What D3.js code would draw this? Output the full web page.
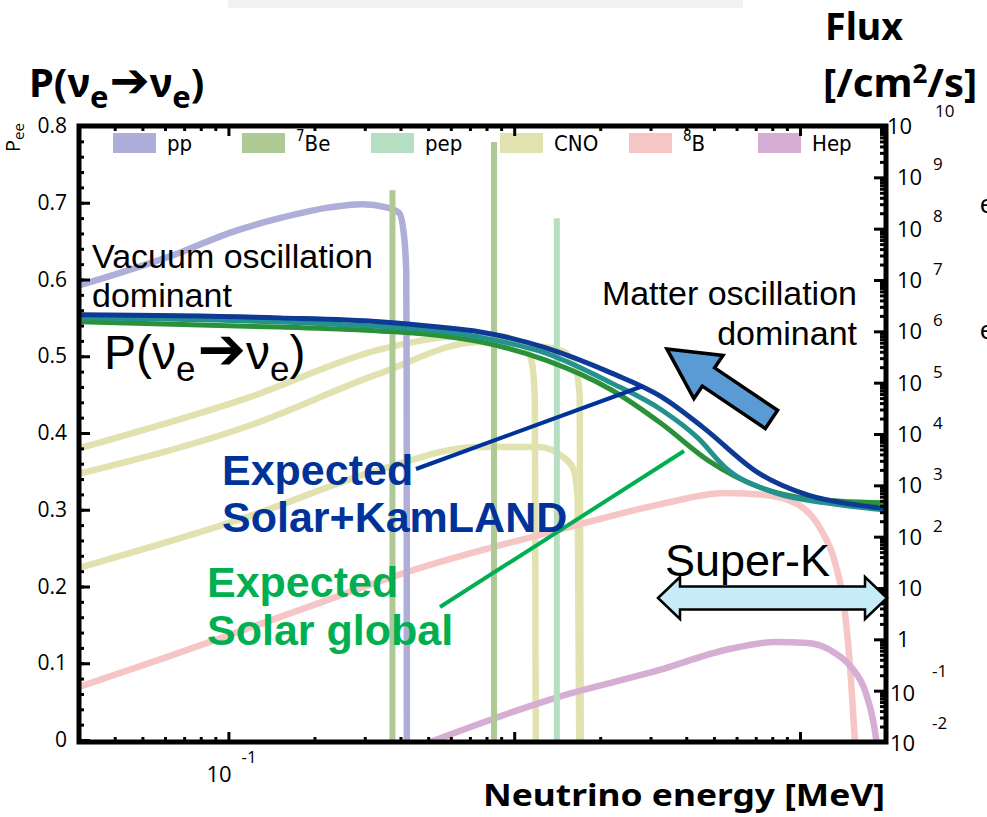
<!DOCTYPE html>
<html>
<head>
<meta charset="utf-8">
<script src="https://cdnjs.cloudflare.com/ajax/libs/d3/7.8.5/d3.min.js"></script>
<style>
  body { margin: 0; background: #fff; }
  svg { display: block; }
</style>
</head>
<body>
<div id="chart"></div>
<script>
// Data
// ===========================
// Neutrino energy [MeV] and flux [/cm2/s(/MeV)] for each solar neutrino source
var ppE = [0.0302, 0.0676, 0.101, 0.151, 0.226, 0.294, 0.357, 0.396, 0.412, 0.419, 0.4205, 0.421];
var ppFlux = [7.9e6, 3.4e7, 8.3e7, 1.6e8, 2.6e8, 3.0e8, 2.6e8, 2.0e8, 6.9e7, 1.5e7, 1e5, 6e-3];

var be7E = [0.375, 0.85];
var be7Flux = [5.6e8, 4.9e9];

var pepE = [1.41];
var pepFlux = [1.6e8];

var n13E = [0.0302, 0.116, 0.337, 0.578, 0.695, 0.884, 1.081, 1.153, 1.181, 1.19];
var n13Flux = [5.3e3, 5.0e4, 4.4e5, 7.8e5, 8.5e5, 8.1e5, 5.4e5, 2.5e5, 4.6e4, 6e-3];

var o15E = [0.0302, 0.116, 0.337, 0.753, 1.29, 1.49, 1.628, 1.695, 1.71];
var o15Flux = [1.7e3, 1.4e4, 1.5e5, 6.2e5, 4.9e5, 4.0e5, 2.2e5, 5.8e4, 6e-3];

var f17E = [0.0302, 0.116, 0.337, 0.753, 1.219, 1.49, 1.616, 1.668, 1.69];
var f17Flux = [25, 240, 2.0e3, 5.6e3, 5.6e3, 3.5e3, 2.0e3, 510, 6e-3];

var b8E = [0.0302, 0.0608, 0.177, 0.44, 1.432, 3.2, 5.48, 7.56, 9.86, 11.86, 13.27, 14.38, 15.09, 15.58];
var b8Flux = [0.12, 0.45, 3.7, 22, 135, 420, 710, 650, 420, 135, 31, 3.2, 0.16, 9.5e-3];

var hepE = [0.46, 1.432, 3.2, 5.48, 8.2, 10.68, 13.27, 15.09, 16.89, 18.01, 18.6];
var hepFlux = [8.1e-3, 0.076, 0.25, 0.62, 0.89, 0.85, 0.54, 0.29, 0.10, 0.027, 8.9e-3];

// Survival probability P(nue -> nue)
var kamE = [0.0302, 0.151, 0.337, 0.546, 0.753, 1.29, 2.193, 3.28, 4.59, 7.15, 10.68, 15.96, 19.68];
var kamPee = [0.554, 0.550, 0.545, 0.538, 0.532, 0.511, 0.478, 0.447, 0.407, 0.348, 0.319, 0.306, 0.302];

var midE = [0.0302, 0.337, 0.753, 1.29, 2.193, 3.28, 4.41, 5.48, 8.2, 12.25, 19.68];
var midPee = [0.550, 0.539, 0.525, 0.504, 0.465, 0.430, 0.393, 0.355, 0.322, 0.309, 0.300];

var globE = [0.0302, 0.151, 0.337, 0.546, 0.753, 1.29, 2.193, 3.28, 4.78, 7.15, 9.32, 13.93, 19.68];
var globPee = [0.545, 0.538, 0.533, 0.527, 0.519, 0.495, 0.456, 0.412, 0.364, 0.330, 0.318, 0.311, 0.309];

// Legend and tick labels
var legendBase = ["pp", "Be", "pep", "CNO", "B", "Hep"];
var legendSup = ["", "7", "", "", "8", ""];
var leftTicks = [0, 0.1, 0.2, 0.3, 0.4, 0.5, 0.6, 0.7, 0.8];
var rightExp = [-2, -1, 0, 1, 2, 3, 4, 5, 6, 7, 8, 9, 10];
var xMajor = [0.1, 1, 10];

// Setup
// ===========================
var width = 987, height = 817;
var plot = { left: 79, right: 886, top: 126, bottom: 742 };

var colors = {
  pp: "#aeaed8", be7: "#aec896", pep: "#b6dec2", cno: "#e2e2b0",
  b8: "#f6c6c6", hep: "#d6aed3",
  kam: "#0c3a94", mid: "#23928f", glob: "#2a9139"
};
var legendColors = [colors.pp, colors.be7, colors.pep, colors.cno, colors.b8, colors.hep];

var svg = d3.select("#chart").append("svg")
  .attr("width", width)
  .attr("height", height)
  .style("font-family", "'Liberation Sans', Arial, sans-serif");

var xScale = d3.scaleLog().domain([0.03, 20]).range([plot.left, plot.right]);
var yPee = d3.scaleLinear().domain([0, 0.8]).range([740, plot.top]);
var yFlux = d3.scaleLog().domain([1e-2, 1e10]).range([plot.bottom, plot.top]);

// faint band at the very top of the picture
svg.append("rect").attr("x", 228).attr("y", 0).attr("width", 515).attr("height", 8).attr("fill", "#f1f1f1");

svg.append("clipPath").attr("id", "clip")
  .append("rect")
  .attr("x", plot.left).attr("y", plot.top)
  .attr("width", plot.right - plot.left).attr("height", plot.bottom - plot.top);

var g = svg.append("g").attr("clip-path", "url(#clip)");

function zip(es, vs) {
  return es.map(function(e, i) { return [e, vs[i]]; });
}

var fluxLine = d3.line()
  .x(function(d) { return xScale(d[0]); })
  .y(function(d) { return yFlux(d[1]); })
  .curve(d3.curveMonotoneX);

var peeLine = d3.line()
  .x(function(d) { return xScale(d[0]); })
  .y(function(d) { return yPee(d[1]); })
  .curve(d3.curveMonotoneX);

// Spectra (continuous)
var spectra = [
  { data: zip(n13E, n13Flux), color: colors.cno },
  { data: zip(o15E, o15Flux), color: colors.cno },
  { data: zip(f17E, f17Flux), color: colors.cno },
  { data: zip(b8E, b8Flux), color: colors.b8 },
  { data: zip(hepE, hepFlux), color: colors.hep },
  { data: zip(ppE, ppFlux), color: colors.pp }
];
g.selectAll("path.spec").data(spectra).enter()
  .append("path")
  .attr("class", "spec")
  .attr("d", function(d) { return fluxLine(d.data); })
  .attr("fill", "none")
  .attr("stroke", function(d) { return d.color; })
  .attr("stroke-width", 6.5);

// Line sources
var lines = zip(be7E, be7Flux).map(function(d) { return { e: d[0], f: d[1], color: colors.be7 }; })
  .concat(zip(pepE, pepFlux).map(function(d) { return { e: d[0], f: d[1], color: colors.pep }; }));
g.selectAll("line.mono").data(lines).enter()
  .append("line")
  .attr("class", "mono")
  .attr("x1", function(d) { return xScale(d.e); })
  .attr("x2", function(d) { return xScale(d.e); })
  .attr("y1", yFlux(1e-2))
  .attr("y2", function(d) { return yFlux(d.f); })
  .attr("stroke", function(d) { return d.color; })
  .attr("stroke-width", 6);

// Survival probability curves
var pees = [
  { data: zip(globE, globPee), color: colors.glob },
  { data: zip(midE, midPee), color: colors.mid },
  { data: zip(kamE, kamPee), color: colors.kam }
];
g.selectAll("path.pee").data(pees).enter()
  .append("path")
  .attr("class", "pee")
  .attr("d", function(d) { return peeLine(d.data); })
  .attr("fill", "none")
  .attr("stroke", function(d) { return d.color; })
  .attr("stroke-width", 5);

// Legend
var legend = svg.append("g").style("font-family", "'DejaVu Sans Condensed', 'DejaVu Sans', sans-serif");
legendBase.forEach(function(name, i) {
  var lx = 113 + i * 129;
  legend.append("rect")
    .attr("x", lx).attr("y", 133).attr("width", 43).attr("height", 20)
    .attr("fill", legendColors[i]);
  var t = legend.append("text").attr("x", lx + 54).attr("y", 151).attr("font-size", 22);
  if (legendSup[i]) {
    t.append("tspan").attr("font-size", 15).attr("dy", -10).text(legendSup[i]);
    t.append("tspan").attr("dy", 10).text(name);
  } else {
    t.text(name);
  }
});

// Axes
// ===========================
function styleAxis(sel) {
  sel.select(".domain").remove();
  sel.selectAll(".tick line").attr("stroke", "#000").attr("stroke-width", 3);
}

var xMinor = [];
[0.01, 0.1, 1].forEach(function(dec) {
  for (var k = 2; k <= 9; k++) {
    var v = dec * k;
    if (v > 0.031 && v < 19.5) xMinor.push(v);
  }
});

svg.append("g").attr("transform", "translate(0," + plot.bottom + ")")
  .call(d3.axisBottom(xScale).tickValues(xMajor).tickSizeInner(-10).tickSizeOuter(0).tickFormat(""))
  .call(styleAxis);
svg.append("g").attr("transform", "translate(0," + plot.bottom + ")")
  .call(d3.axisBottom(xScale).tickValues(xMinor).tickSizeInner(-5).tickSizeOuter(0).tickFormat(""))
  .call(styleAxis);
svg.append("g").attr("transform", "translate(0," + plot.top + ")")
  .call(d3.axisTop(xScale).tickValues(xMajor).tickSizeInner(-10).tickSizeOuter(0).tickFormat(""))
  .call(styleAxis);
svg.append("g").attr("transform", "translate(0," + plot.top + ")")
  .call(d3.axisTop(xScale).tickValues(xMinor).tickSizeInner(-5).tickSizeOuter(0).tickFormat(""))
  .call(styleAxis);

// left axis, P(ee)
var leftMinor = d3.range(0, 0.801, 0.02);
svg.append("g").attr("transform", "translate(" + plot.left + ",0)")
  .call(d3.axisLeft(yPee).tickValues(leftMinor).tickSizeInner(-5).tickSizeOuter(0).tickFormat(""))
  .call(styleAxis);
svg.append("g").attr("transform", "translate(" + plot.left + ",0)")
  .call(d3.axisLeft(yPee).tickValues(leftTicks).tickSizeInner(-11).tickSizeOuter(0).tickPadding(12)
    .tickFormat(function(d) { return d === 0 ? "0" : d3.format(".1f")(d); }))
  .call(styleAxis)
  .call(function(s) {
    s.selectAll("text").attr("font-size", 21).attr("fill", "#000")
      .attr("font-family", "'Open Sans', sans-serif");
  });

// right axis, flux
var rightMinor = [];
rightExp.forEach(function(e) {
  if (e < 10) for (var k = 2; k <= 9; k++) rightMinor.push(k * Math.pow(10, e));
});
svg.append("g").attr("transform", "translate(" + plot.right + ",0)")
  .call(d3.axisRight(yFlux).tickValues(rightMinor).tickSizeInner(-6).tickSizeOuter(0).tickFormat(""))
  .call(styleAxis);
svg.append("g").attr("transform", "translate(" + plot.right + ",0)")
  .call(d3.axisRight(yFlux).tickValues(rightExp.map(function(e) { return Math.pow(10, e); }))
    .tickSizeInner(-12).tickSizeOuter(0).tickFormat(""))
  .call(styleAxis);

var rlab = svg.append("g").style("font-family", "'Open Sans', sans-serif").attr("fill", "#000");
rightExp.forEach(function(e) {
  var ty = yFlux(Math.pow(10, e));
  var bx = 897, by = ty + 8, ex = 933, ey = ty - 5;
  if (e === 10) { bx = 887; by = ty + 8; ex = 935; ey = ty - 9; }
  if (e === -1) { bx = 890; by = ty + 10; ex = 932; ey = ty - 14; }
  if (e === -2) { bx = 890; by = ty + 9; ex = 932; ey = ty - 13; }
  if (e === 9 || e === 8) { ey = ty - 7; }
  rlab.append("text").attr("x", bx).attr("y", by).attr("font-size", 22).text(e === 0 ? "1" : "10");
  if (e !== 0 && e !== 1) {
    rlab.append("text").attr("x", ex).attr("y", ey).attr("font-size", 17).text(e);
  }
});

// bottom tick label 10^-1
var bl = svg.append("g").style("font-family", "'Open Sans', sans-serif").attr("fill", "#000");
bl.append("text").attr("x", xScale(0.1) - 22).attr("y", 782).attr("font-size", 22).text("10");
bl.append("text").attr("x", xScale(0.1) + 13).attr("y", 763).attr("font-size", 17).text("-1");

// Frame
svg.append("rect")
  .attr("x", plot.left).attr("y", plot.top)
  .attr("width", plot.right - plot.left).attr("height", plot.bottom - plot.top)
  .attr("fill", "none").attr("stroke", "#000").attr("stroke-width", 5);

// Titles
// ===========================
var bold = "'Noto Sans', 'Open Sans', sans-serif";
var t1 = svg.append("text").attr("x", 29).attr("y", 97)
  .attr("font-family", bold).attr("font-weight", 700).attr("font-size", 40);
t1.append("tspan").text("P(\u03bd");
t1.append("tspan").attr("font-size", 31).attr("dy", 11).text("e");
t1.append("tspan").attr("dy", -11).attr("dx", 1).attr("font-family", "'DejaVu Sans', sans-serif").attr("font-size", 48).text("\u2794");
t1.append("tspan").text("\u03bd");
t1.append("tspan").attr("font-size", 31).attr("dy", 11).text("e");
t1.append("tspan").attr("dy", -11).text(")");

svg.append("text").attr("x", 825).attr("y", 40)
  .attr("font-family", bold).attr("font-weight", 700).attr("font-size", 37)
  .attr("textLength", 78).attr("lengthAdjust", "spacingAndGlyphs").text("Flux");
var t2 = svg.append("text").attr("x", 823).attr("y", 97)
  .attr("font-family", bold).attr("font-weight", 700).attr("font-size", 40);
t2.append("tspan").text("[/cm");
t2.append("tspan").attr("font-size", 26).attr("dy", -14).text("2");
t2.append("tspan").attr("dy", 14).text("/s]");

svg.append("text").attr("x", 885).attr("y", 806).attr("text-anchor", "end")
  .attr("font-family", bold).attr("font-weight", 700).attr("font-size", 31)
  .attr("textLength", 402).attr("lengthAdjust", "spacingAndGlyphs")
  .text("Neutrino energy [MeV]");

// Pee small axis label
var pl = svg.append("text").attr("transform", "translate(20,152) rotate(-90)")
  .attr("font-family", "'Open Sans', sans-serif").attr("font-size", 20);
pl.append("tspan").text("P");
pl.append("tspan").attr("font-size", 15).attr("dy", 4).text("ee");

// Annotations
// ===========================
svg.append("text").attr("x", 92).attr("y", 268).attr("font-size", 34).text("Vacuum oscillation");
svg.append("text").attr("x", 92).attr("y", 307).attr("font-size", 34).text("dominant");
svg.append("text").attr("x", 857).attr("y", 305).attr("font-size", 34).attr("text-anchor", "end").text("Matter oscillation");
svg.append("text").attr("x", 857).attr("y", 345).attr("font-size", 34).attr("text-anchor", "end").text("dominant");

var t3 = svg.append("text").attr("x", 104).attr("y", 369).attr("font-size", 48);
t3.append("tspan").text("P(\u03bd");
t3.append("tspan").attr("font-size", 35).attr("dy", 12).text("e");
t3.append("tspan").attr("dy", -12).attr("dx", 2).attr("font-family", "'DejaVu Sans', sans-serif").attr("font-size", 58).text("\u2794");
t3.append("tspan").text("\u03bd");
t3.append("tspan").attr("font-size", 35).attr("dy", 12).text("e");
t3.append("tspan").attr("dy", -12).text(")");

// pointer lines
svg.append("line").attr("x1", 416).attr("y1", 469).attr("x2", 643).attr("y2", 386)
  .attr("stroke", "#003399").attr("stroke-width", 4);
svg.append("line").attr("x1", 440).attr("y1", 607).attr("x2", 684).attr("y2", 451)
  .attr("stroke", "#00b050").attr("stroke-width", 4);

svg.append("text").attr("x", 222).attr("y", 485).attr("font-size", 43).attr("font-weight", 700)
  .attr("fill", "#003399").text("Expected");
svg.append("text").attr("x", 222).attr("y", 532).attr("font-size", 43).attr("font-weight", 700)
  .attr("fill", "#003399").text("Solar+KamLAND");
svg.append("text").attr("x", 207).attr("y", 597).attr("font-size", 43).attr("font-weight", 700)
  .attr("fill", "#00b050").text("Expected");
svg.append("text").attr("x", 207).attr("y", 645).attr("font-size", 43).attr("font-weight", 700)
  .attr("fill", "#00b050").text("Solar global");

// blue block arrow pointing up-left
var L = 126, headL = 50, headW = 26, shaftW = 11;
svg.append("path")
  .attr("transform", "translate(667,349) rotate(34)")
  .attr("d", "M0,0 L" + headL + "," + (-headW) + " L" + headL + "," + (-shaftW) +
    " L" + L + "," + (-shaftW) + " L" + L + "," + shaftW + " L" + headL + "," + shaftW +
    " L" + headL + "," + headW + " Z")
  .attr("fill", "#5b9bd5").attr("stroke", "#000").attr("stroke-width", 3.5).attr("stroke-linejoin", "miter");

// Super-K double arrow
var sx0 = 658, sx1 = 887, sy = 598, sh = 22, sH = 21, sS = 11.5;
svg.append("path")
  .attr("d", "M" + sx0 + "," + sy + " L" + (sx0 + sh) + "," + (sy - sH) + " L" + (sx0 + sh) + "," + (sy - sS) +
    " L" + (sx1 - sh) + "," + (sy - sS) + " L" + (sx1 - sh) + "," + (sy - sH) + " L" + sx1 + "," + sy +
    " L" + (sx1 - sh) + "," + (sy + sH) + " L" + (sx1 - sh) + "," + (sy + sS) + " L" + (sx0 + sh) + "," + (sy + sS) +
    " L" + (sx0 + sh) + "," + (sy + sH) + " Z")
  .attr("fill", "#c6ecfa").attr("stroke", "#000").attr("stroke-width", 2.5);
svg.append("text").attr("x", 665).attr("y", 576).attr("font-size", 45).text("Super-K");

// cut-off letters at the right edge
svg.append("text").attr("x", 980).attr("y", 213).attr("font-size", 26).text("e");
svg.append("text").attr("x", 980).attr("y", 339).attr("font-size", 26).text("e");
</script>
</body>
</html>
